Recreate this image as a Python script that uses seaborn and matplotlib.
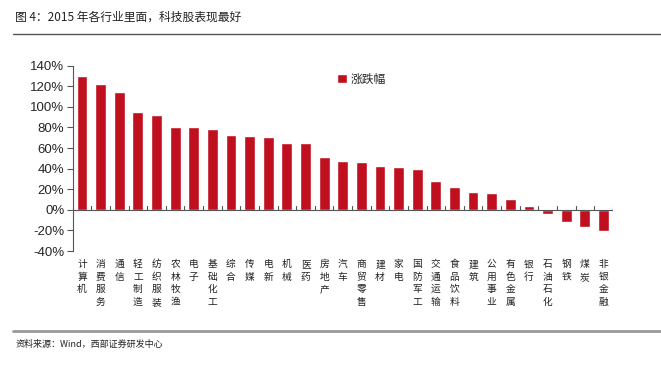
import matplotlib
matplotlib.use("Agg")
import matplotlib.pyplot as plt
import seaborn as sns
import pandas as pd
import numpy as np

# data (percent)
industries = ["计算机", "消费服务", "通信", "轻工制造", "纺织服装", "农林牧渔", "电子",
              "基础化工", "综合", "传媒", "电新", "机械", "医药", "房地产", "汽车",
              "商贸零售", "建材", "家电", "国防军工", "交通运输", "食品饮料", "建筑",
              "公用事业", "有色金属", "银行", "石油石化", "钢铁", "煤炭", "非银金融"]
changes = [130, 121.8, 114, 95.5, 92.6, 80.9, 80.5, 78.3, 73, 71.4, 70.4, 65.3, 64.6,
           51.3, 47, 46.7, 42.9, 41.9, 39.6, 27.6, 21.7, 16.9, 16.2, 10.7, 3.5,
           -3.9, -11.4, -16.9, -20.5]
yticks = [-40, -20, 0, 20, 40, 60, 80, 100, 120, 140]

bar_color = "#C00F1E"

sns.set_style("white")
plt.rcParams['font.family'] = ['Noto Sans CJK SC', 'DejaVu Sans']

df = pd.DataFrame({"industry": industries, "change": changes})

fig = plt.figure(figsize=(6.61, 3.70), dpi=100)
ax = fig.add_axes([0.110, 0.3216, 0.817, 0.5008])

sns.barplot(data=df, x="industry", y="change", color=bar_color, width=0.58,
            saturation=1, ax=ax, label="涨跌幅")

ax.set_ylim(-40, 140)
ax.set_xlim(-0.5, len(industries) - 0.5)
ax.set_yticks(yticks)
ax.set_yticklabels([f"{v}%" for v in yticks], family="Liberation Sans", fontsize=9.5)
ax.set_xlabel("")
ax.set_ylabel("")

# vertical stacked category labels
ax.set_xticks(range(len(industries)))
ax.set_xticklabels(["\n".join(name) for name in industries], fontsize=7,
                   va="top", linespacing=1.3, color="#222222")
ax.tick_params(axis="x", length=0, pad=6)
ax.tick_params(axis="y", direction="out", length=4, width=0.8, color="#555555",
               left=True, pad=2)

for s in ["top", "right", "bottom"]:
    ax.spines[s].set_visible(False)
ax.spines["left"].set_color("#555555")
ax.spines["left"].set_linewidth(0.8)

# zero line with small separator ticks between categories
ax.axhline(0, color="#555555", lw=0.8)
for b in np.arange(-0.5, len(industries)):
    ax.plot([b, b], [0, 3.5], color="#555555", lw=0.8)

leg = ax.legend(loc="upper left", bbox_to_anchor=(0.47, 1.02), frameon=False,
                fontsize=8.5, handlelength=0.8, handleheight=0.8, handletextpad=0.3)

# title, rules and source
fig.text(0.023, 0.955, "图 4：2015 年各行业里面，科技股表现最好", fontsize=8.5, va="center",
         color="#222222")
fig.add_artist(plt.Line2D([0.02, 1.0], [0.908, 0.908], color="#555555", lw=1.0))
fig.add_artist(plt.Line2D([0.02, 1.0], [0.105, 0.105], color="#999999", lw=2.0))
fig.text(0.023, 0.068, "资料来源：Wind，西部证券研发中心", fontsize=6.5, va="center",
         color="#222222")

fig.savefig("out.png", dpi=100)
